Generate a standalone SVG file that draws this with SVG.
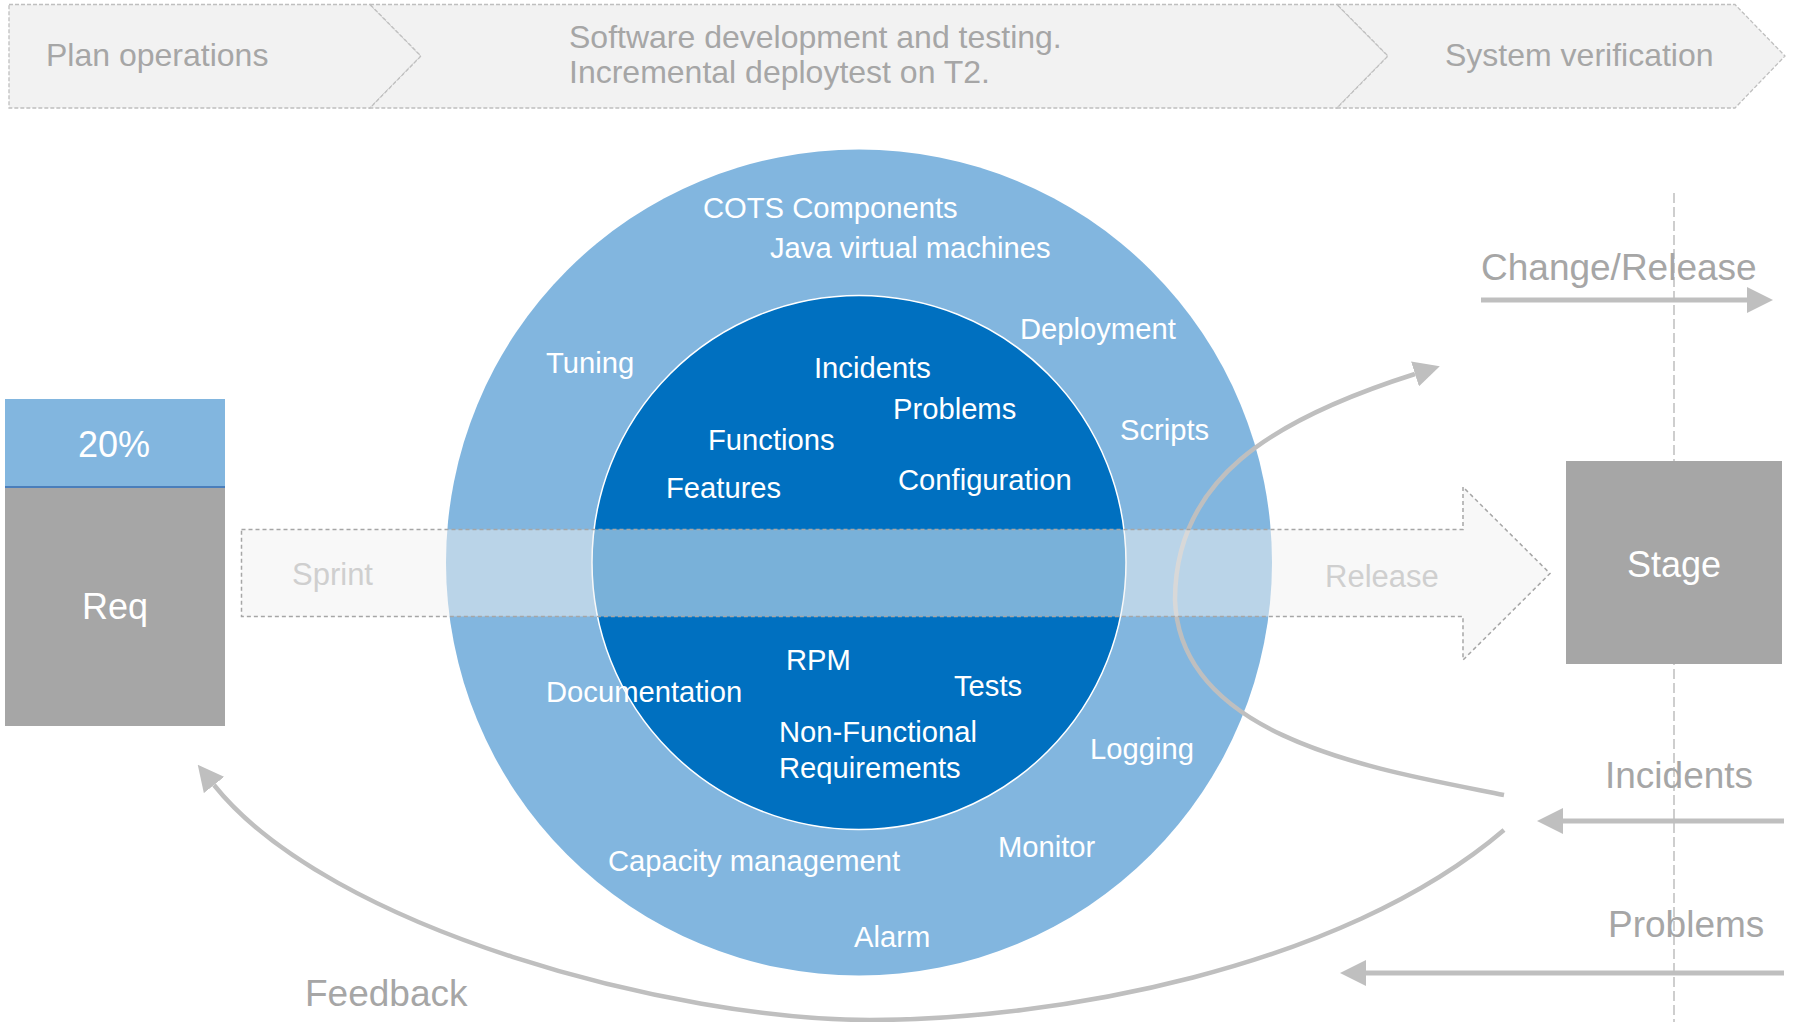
<svg xmlns="http://www.w3.org/2000/svg" width="1795" height="1022" viewBox="0 0 1795 1022">
<style>
.banner{fill:#F2F2F2;stroke:#BFBFBF;stroke-width:1.3;stroke-dasharray:4 2}
.bt{font-family:"Liberation Sans",Arial,sans-serif;font-size:32px;fill:#A6A6A6}
.ct{font-family:"Liberation Sans",Arial,sans-serif;font-size:29.2px;fill:#FFFFFF}
.lbl{font-family:"Liberation Sans",Arial,sans-serif;font-size:37px;fill:#A6A6A6}
.bx{font-family:"Liberation Sans",Arial,sans-serif;font-size:36px;fill:#FFFFFF;text-anchor:middle}
.st{font-family:"Liberation Sans",Arial,sans-serif;font-size:31px;fill:#CFCFCF}
.conn{fill:none;stroke:#BFBFBF;stroke-width:5}
.curve{fill:none;stroke:#BFBFBF;stroke-width:4.5}
</style>
<defs>
<marker id="ah" markerUnits="userSpaceOnUse" markerWidth="26" markerHeight="26" refX="0" refY="13" orient="auto">
<path d="M0,0 L26,13 L0,26 z" fill="#BFBFBF"/>
</marker>
</defs>

<g id="phase-plan">
<polygon class="banner" points="9,4.5 370,4.5 421,56 370,108 9,108"/>
<text class="bt" x="46" y="66">Plan operations</text>
</g>
<g id="phase-dev">
<polygon class="banner" points="370,4.5 1337,4.5 1388,56 1337,108 370,108 421,56"/>
<text class="bt" x="569" y="48">Software development and testing.</text>
<text class="bt" x="569" y="83">Incremental deploytest on T2.</text>
</g>
<g id="phase-verify">
<polygon class="banner" points="1337,4.5 1735,4.5 1785,56 1735,108 1337,108 1388,56"/>
<text class="bt" x="1445" y="66">System verification</text>
</g>

<g id="outer-ring">
<circle cx="859" cy="562.5" r="413" fill="#82B6DF"/>
<text class="ct" x="703" y="218">COTS Components</text>
<text class="ct" x="770" y="258">Java virtual machines</text>
<text class="ct" x="1020" y="339">Deployment</text>
<text class="ct" x="546" y="373">Tuning</text>
<text class="ct" x="1120" y="440">Scripts</text>
<text class="ct" x="1090" y="759">Logging</text>
<text class="ct" x="998" y="857">Monitor</text>
<text class="ct" x="608" y="871">Capacity management</text>
<text class="ct" x="854" y="947">Alarm</text>
</g>
<g id="inner-core">
<circle cx="859" cy="562.5" r="267" fill="#0070C0" stroke="#FFFFFF" stroke-width="1.5"/>
<text class="ct" x="814" y="378">Incidents</text>
<text class="ct" x="893" y="419">Problems</text>
<text class="ct" x="708" y="450">Functions</text>
<text class="ct" x="666" y="498">Features</text>
<text class="ct" x="898" y="490">Configuration</text>
<text class="ct" x="786" y="670">RPM</text>
<text class="ct" x="954" y="696">Tests</text>
<text class="ct" x="779" y="742">Non-Functional</text>
<text class="ct" x="779" y="778">Requirements</text>
</g>
<text class="ct" x="546" y="702">Documentation</text>

<g id="connectors">
<path class="curve" d="M1504,795 C1380,770 1180,740 1175,600 C1175,480 1270,420 1415,374" marker-end="url(#ah)"/>
<path class="curve" d="M1504,830 C1340,970 1050,1020 870,1020 C675,1020 330,930 214,785" marker-end="url(#ah)"/>
<path class="conn" d="M1481,300 L1747,300" marker-end="url(#ah)"/>
<path class="conn" d="M1784,821 L1563,821" marker-end="url(#ah)"/>
<path class="conn" d="M1784,973 L1366,973" marker-end="url(#ah)"/>
</g>

<g id="sprint">
<polygon points="241.5,529.5 1463,529.5 1463,487 1550,573.5 1463,660 1463,616.5 241.5,616.5" fill="#F2F2F2" fill-opacity="0.5" stroke="#A6A6A6" stroke-width="1.5" stroke-dasharray="4 3"/>
<text class="st" x="292" y="585">Sprint</text>
<text class="st" x="1325" y="587">Release</text>
</g>

<line x1="1674" y1="193" x2="1674" y2="1022" stroke="#BFBFBF" stroke-width="1.5" stroke-dasharray="10 4"/>

<g id="req">
<rect x="5" y="399" width="220" height="88" fill="#82B6DF"/>
<rect x="5" y="487" width="220" height="239" fill="#A6A6A6"/>
<line x1="5" y1="487" x2="225" y2="487" stroke="#4A7EBB" stroke-width="2"/>
<text class="bx" x="114" y="457">20%</text>
<text class="bx" x="115" y="619">Req</text>
</g>

<g id="stage">
<rect x="1566" y="461" width="216" height="203" fill="#A6A6A6"/>
<text class="bx" x="1674" y="577">Stage</text>
</g>

<g id="labels">
<text class="lbl" x="1481" y="280">Change/Release</text>
<text class="lbl" x="1605" y="788">Incidents</text>
<text class="lbl" x="1608" y="937">Problems</text>
<text class="lbl" x="305" y="1006">Feedback</text>
</g>
</svg>
